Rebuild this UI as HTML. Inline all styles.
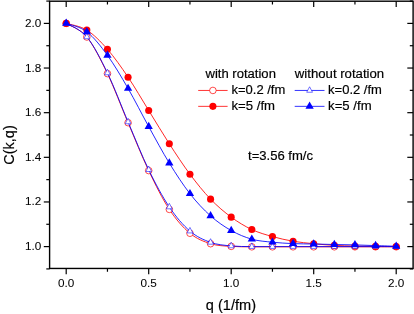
<!DOCTYPE html>
<html><head><meta charset="utf-8"><title>C(k,q)</title>
<style>
html,body{margin:0;padding:0;background:#fff;}
svg{display:block;font-family:"Liberation Sans",sans-serif;fill:#000;}
</style></head>
<body>
<svg width="414" height="314" viewBox="0 0 414 314">
<defs><filter id="gs" x="0" y="0" width="414" height="314" filterUnits="userSpaceOnUse" color-interpolation-filters="sRGB"><feColorMatrix type="saturate" values="0"/></filter></defs>
<rect x="0" y="0" width="414" height="314" fill="#fff"/>
<g>
<path d="M66.20 23.40 C69.64 25.67 79.95 28.65 86.83 37.02 C93.70 45.39 100.58 59.34 107.45 73.62 C114.33 87.90 121.20 106.54 128.07 122.70 C134.95 138.87 141.82 156.16 148.70 170.60 C155.57 185.05 162.45 198.93 169.32 209.37 C176.20 219.81 183.07 227.53 189.95 233.25 C196.82 238.97 203.70 241.51 210.57 243.70 C217.45 245.89 224.32 245.86 231.20 246.38 C238.07 246.90 244.95 246.75 251.82 246.82 C258.70 246.90 265.57 246.82 272.45 246.82 C279.32 246.82 286.20 246.82 293.07 246.82 C299.95 246.82 306.82 246.82 313.70 246.82 C320.57 246.82 327.45 246.82 334.32 246.82 C341.20 246.82 348.07 246.82 354.95 246.82 C361.82 246.82 368.70 246.82 375.57 246.82 C382.45 246.82 392.76 246.82 396.20 246.82" fill="none" stroke="#ff0000" stroke-width="0.85"/>
<circle cx="66.20" cy="23.40" r="3.3" fill="#fff" stroke="#ff0000" stroke-width="0.7"/>
<circle cx="86.83" cy="37.02" r="3.3" fill="#fff" stroke="#ff0000" stroke-width="0.7"/>
<circle cx="107.45" cy="73.62" r="3.3" fill="#fff" stroke="#ff0000" stroke-width="0.7"/>
<circle cx="128.07" cy="122.70" r="3.3" fill="#fff" stroke="#ff0000" stroke-width="0.7"/>
<circle cx="148.70" cy="170.60" r="3.3" fill="#fff" stroke="#ff0000" stroke-width="0.7"/>
<circle cx="169.32" cy="209.37" r="3.3" fill="#fff" stroke="#ff0000" stroke-width="0.7"/>
<circle cx="189.95" cy="233.25" r="3.3" fill="#fff" stroke="#ff0000" stroke-width="0.7"/>
<circle cx="210.57" cy="243.70" r="3.3" fill="#fff" stroke="#ff0000" stroke-width="0.7"/>
<circle cx="231.20" cy="246.38" r="3.3" fill="#fff" stroke="#ff0000" stroke-width="0.7"/>
<circle cx="251.82" cy="246.82" r="3.3" fill="#fff" stroke="#ff0000" stroke-width="0.7"/>
<circle cx="272.45" cy="246.82" r="3.3" fill="#fff" stroke="#ff0000" stroke-width="0.7"/>
<circle cx="293.07" cy="246.82" r="3.3" fill="#fff" stroke="#ff0000" stroke-width="0.7"/>
<circle cx="313.70" cy="246.82" r="3.3" fill="#fff" stroke="#ff0000" stroke-width="0.7"/>
<circle cx="334.32" cy="246.82" r="3.3" fill="#fff" stroke="#ff0000" stroke-width="0.7"/>
<circle cx="354.95" cy="246.82" r="3.3" fill="#fff" stroke="#ff0000" stroke-width="0.7"/>
<circle cx="375.57" cy="246.82" r="3.3" fill="#fff" stroke="#ff0000" stroke-width="0.7"/>
<circle cx="396.20" cy="246.82" r="3.3" fill="#fff" stroke="#ff0000" stroke-width="0.7"/>
<path d="M66.20 23.40 C69.64 24.52 79.95 25.78 86.83 30.10 C93.70 34.41 100.58 41.44 107.45 49.29 C114.33 57.14 121.20 67.00 128.07 77.19 C134.95 87.38 141.82 99.34 148.70 110.45 C155.57 121.55 162.45 133.19 169.32 143.82 C176.20 154.44 183.07 164.97 189.95 174.19 C196.82 183.42 203.70 191.99 210.57 199.15 C217.45 206.30 224.32 212.07 231.20 217.14 C238.07 222.20 244.95 226.31 251.82 229.55 C258.70 232.78 265.57 234.61 272.45 236.56 C279.32 238.51 286.20 240.05 293.07 241.24 C299.95 242.43 306.82 243.01 313.70 243.70 C320.57 244.39 327.45 245.00 334.32 245.39 C341.20 245.79 348.07 245.92 354.95 246.09 C361.82 246.25 368.70 246.31 375.57 246.38 C382.45 246.45 392.76 246.49 396.20 246.51" fill="none" stroke="#ff0000" stroke-width="0.85"/>
<circle cx="66.20" cy="23.40" r="3.55" fill="#ff0000"/>
<circle cx="86.83" cy="30.10" r="3.55" fill="#ff0000"/>
<circle cx="107.45" cy="49.29" r="3.55" fill="#ff0000"/>
<circle cx="128.07" cy="77.19" r="3.55" fill="#ff0000"/>
<circle cx="148.70" cy="110.45" r="3.55" fill="#ff0000"/>
<circle cx="169.32" cy="143.82" r="3.55" fill="#ff0000"/>
<circle cx="189.95" cy="174.19" r="3.55" fill="#ff0000"/>
<circle cx="210.57" cy="199.15" r="3.55" fill="#ff0000"/>
<circle cx="231.20" cy="217.14" r="3.55" fill="#ff0000"/>
<circle cx="251.82" cy="229.55" r="3.55" fill="#ff0000"/>
<circle cx="272.45" cy="236.56" r="3.55" fill="#ff0000"/>
<circle cx="293.07" cy="241.24" r="3.55" fill="#ff0000"/>
<circle cx="313.70" cy="243.70" r="3.55" fill="#ff0000"/>
<circle cx="334.32" cy="245.39" r="3.55" fill="#ff0000"/>
<circle cx="354.95" cy="246.09" r="3.55" fill="#ff0000"/>
<circle cx="375.57" cy="246.38" r="3.55" fill="#ff0000"/>
<circle cx="396.20" cy="246.51" r="3.55" fill="#ff0000"/>
<path d="M66.20 23.40 C69.64 25.65 79.95 28.65 86.83 36.90 C93.70 45.16 100.58 58.78 107.45 72.95 C114.33 87.12 121.20 105.82 128.07 121.94 C134.95 138.07 141.82 155.53 148.70 169.71 C155.57 183.88 162.45 196.75 169.32 206.98 C176.20 217.21 183.07 225.19 189.95 231.09 C196.82 236.98 203.70 239.89 210.57 242.36 C217.45 244.83 224.32 245.22 231.20 245.93 C238.07 246.64 244.95 246.49 251.82 246.60 C258.70 246.71 265.57 246.60 272.45 246.60 C279.32 246.60 286.20 246.60 293.07 246.60 C299.95 246.60 306.82 246.60 313.70 246.60 C320.57 246.60 327.45 246.60 334.32 246.60 C341.20 246.60 348.07 246.60 354.95 246.60 C361.82 246.60 368.70 246.60 375.57 246.60 C382.45 246.60 392.76 246.60 396.20 246.60" fill="none" stroke="#0000ff" stroke-width="0.85"/>
<path d="M66.20 19.73 L69.10 25.23 L63.30 25.23 Z" fill="#fff" stroke="#0000ff" stroke-width="0.55"/>
<path d="M86.83 33.24 L89.73 38.74 L83.92 38.74 Z" fill="#fff" stroke="#0000ff" stroke-width="0.55"/>
<path d="M107.45 69.28 L110.35 74.78 L104.55 74.78 Z" fill="#fff" stroke="#0000ff" stroke-width="0.55"/>
<path d="M128.07 118.28 L130.97 123.78 L125.17 123.78 Z" fill="#fff" stroke="#0000ff" stroke-width="0.55"/>
<path d="M148.70 166.04 L151.60 171.54 L145.80 171.54 Z" fill="#fff" stroke="#0000ff" stroke-width="0.55"/>
<path d="M169.32 203.32 L172.22 208.82 L166.42 208.82 Z" fill="#fff" stroke="#0000ff" stroke-width="0.55"/>
<path d="M189.95 227.42 L192.85 232.92 L187.05 232.92 Z" fill="#fff" stroke="#0000ff" stroke-width="0.55"/>
<path d="M210.57 238.69 L213.47 244.19 L207.67 244.19 Z" fill="#fff" stroke="#0000ff" stroke-width="0.55"/>
<path d="M231.20 242.26 L234.10 247.76 L228.30 247.76 Z" fill="#fff" stroke="#0000ff" stroke-width="0.55"/>
<path d="M251.82 242.93 L254.72 248.43 L248.92 248.43 Z" fill="#fff" stroke="#0000ff" stroke-width="0.55"/>
<path d="M272.45 242.93 L275.35 248.43 L269.55 248.43 Z" fill="#fff" stroke="#0000ff" stroke-width="0.55"/>
<path d="M293.07 242.93 L295.97 248.43 L290.18 248.43 Z" fill="#fff" stroke="#0000ff" stroke-width="0.55"/>
<path d="M313.70 242.93 L316.60 248.43 L310.80 248.43 Z" fill="#fff" stroke="#0000ff" stroke-width="0.55"/>
<path d="M334.32 242.93 L337.22 248.43 L331.43 248.43 Z" fill="#fff" stroke="#0000ff" stroke-width="0.55"/>
<path d="M354.95 242.93 L357.85 248.43 L352.05 248.43 Z" fill="#fff" stroke="#0000ff" stroke-width="0.55"/>
<path d="M375.57 242.93 L378.47 248.43 L372.68 248.43 Z" fill="#fff" stroke="#0000ff" stroke-width="0.55"/>
<path d="M396.20 242.93 L399.10 248.43 L393.30 248.43 Z" fill="#fff" stroke="#0000ff" stroke-width="0.55"/>
<path d="M66.20 23.40 C69.64 24.80 79.95 26.45 86.83 31.77 C93.70 37.09 100.58 45.87 107.45 55.32 C114.33 64.77 121.20 76.58 128.07 88.46 C134.95 100.34 141.82 114.14 148.70 126.59 C155.57 139.03 162.45 151.94 169.32 163.12 C176.20 174.31 183.07 184.91 189.95 193.70 C196.82 202.50 203.70 209.75 210.57 215.89 C217.45 222.03 224.32 226.65 231.20 230.53 C238.07 234.41 244.95 237.24 251.82 239.19 C258.70 241.14 265.57 241.47 272.45 242.20 C279.32 242.94 286.20 243.31 293.07 243.61 C299.95 243.91 306.82 243.86 313.70 244.01 C320.57 244.16 327.45 244.35 334.32 244.50 C341.20 244.65 348.07 244.72 354.95 244.90 C361.82 245.09 368.70 245.36 375.57 245.60 C382.45 245.83 392.76 246.17 396.20 246.29" fill="none" stroke="#0000ff" stroke-width="0.85"/>
<path d="M66.20 18.60 L70.35 25.80 L62.05 25.80 Z" fill="#0000ff"/>
<path d="M86.83 26.97 L90.98 34.17 L82.67 34.17 Z" fill="#0000ff"/>
<path d="M107.45 50.52 L111.60 57.72 L103.30 57.72 Z" fill="#0000ff"/>
<path d="M128.07 83.66 L132.22 90.86 L123.92 90.86 Z" fill="#0000ff"/>
<path d="M148.70 121.79 L152.85 128.99 L144.55 128.99 Z" fill="#0000ff"/>
<path d="M169.32 158.32 L173.47 165.52 L165.17 165.52 Z" fill="#0000ff"/>
<path d="M189.95 188.90 L194.10 196.10 L185.80 196.10 Z" fill="#0000ff"/>
<path d="M210.57 211.09 L214.72 218.29 L206.42 218.29 Z" fill="#0000ff"/>
<path d="M231.20 225.73 L235.35 232.93 L227.05 232.93 Z" fill="#0000ff"/>
<path d="M251.82 234.39 L255.97 241.59 L247.67 241.59 Z" fill="#0000ff"/>
<path d="M272.45 237.40 L276.60 244.60 L268.30 244.60 Z" fill="#0000ff"/>
<path d="M293.07 238.81 L297.22 246.01 L288.93 246.01 Z" fill="#0000ff"/>
<path d="M313.70 239.21 L317.85 246.41 L309.55 246.41 Z" fill="#0000ff"/>
<path d="M334.32 239.70 L338.47 246.90 L330.18 246.90 Z" fill="#0000ff"/>
<path d="M354.95 240.10 L359.10 247.30 L350.80 247.30 Z" fill="#0000ff"/>
<path d="M375.57 240.80 L379.72 248.00 L371.43 248.00 Z" fill="#0000ff"/>
<path d="M396.20 241.49 L400.35 248.69 L392.05 248.69 Z" fill="#0000ff"/>
</g>
<g>
<rect x="49.60" y="1.20" width="363.50" height="267.25" fill="none" stroke="#000" stroke-width="1.40"/>
<line x1="66.20" y1="268.45" x2="66.20" y2="274.25" stroke="#000" stroke-width="1.20"/>
<line x1="66.20" y1="1.20" x2="66.20" y2="7.00" stroke="#000" stroke-width="1.20"/>
<line x1="107.45" y1="268.45" x2="107.45" y2="271.75" stroke="#000" stroke-width="1.20"/>
<line x1="107.45" y1="1.20" x2="107.45" y2="4.50" stroke="#000" stroke-width="1.20"/>
<line x1="148.70" y1="268.45" x2="148.70" y2="274.25" stroke="#000" stroke-width="1.20"/>
<line x1="148.70" y1="1.20" x2="148.70" y2="7.00" stroke="#000" stroke-width="1.20"/>
<line x1="189.95" y1="268.45" x2="189.95" y2="271.75" stroke="#000" stroke-width="1.20"/>
<line x1="189.95" y1="1.20" x2="189.95" y2="4.50" stroke="#000" stroke-width="1.20"/>
<line x1="231.20" y1="268.45" x2="231.20" y2="274.25" stroke="#000" stroke-width="1.20"/>
<line x1="231.20" y1="1.20" x2="231.20" y2="7.00" stroke="#000" stroke-width="1.20"/>
<line x1="272.45" y1="268.45" x2="272.45" y2="271.75" stroke="#000" stroke-width="1.20"/>
<line x1="272.45" y1="1.20" x2="272.45" y2="4.50" stroke="#000" stroke-width="1.20"/>
<line x1="313.70" y1="268.45" x2="313.70" y2="274.25" stroke="#000" stroke-width="1.20"/>
<line x1="313.70" y1="1.20" x2="313.70" y2="7.00" stroke="#000" stroke-width="1.20"/>
<line x1="354.95" y1="268.45" x2="354.95" y2="271.75" stroke="#000" stroke-width="1.20"/>
<line x1="354.95" y1="1.20" x2="354.95" y2="4.50" stroke="#000" stroke-width="1.20"/>
<line x1="396.20" y1="268.45" x2="396.20" y2="274.25" stroke="#000" stroke-width="1.20"/>
<line x1="396.20" y1="1.20" x2="396.20" y2="7.00" stroke="#000" stroke-width="1.20"/>
<line x1="46.30" y1="268.92" x2="49.60" y2="268.92" stroke="#000" stroke-width="1.20"/>
<line x1="409.80" y1="268.92" x2="413.10" y2="268.92" stroke="#000" stroke-width="1.20"/>
<line x1="43.80" y1="246.60" x2="49.60" y2="246.60" stroke="#000" stroke-width="1.20"/>
<line x1="407.30" y1="246.60" x2="413.10" y2="246.60" stroke="#000" stroke-width="1.20"/>
<line x1="46.30" y1="224.28" x2="49.60" y2="224.28" stroke="#000" stroke-width="1.20"/>
<line x1="409.80" y1="224.28" x2="413.10" y2="224.28" stroke="#000" stroke-width="1.20"/>
<line x1="43.80" y1="201.96" x2="49.60" y2="201.96" stroke="#000" stroke-width="1.20"/>
<line x1="407.30" y1="201.96" x2="413.10" y2="201.96" stroke="#000" stroke-width="1.20"/>
<line x1="46.30" y1="179.64" x2="49.60" y2="179.64" stroke="#000" stroke-width="1.20"/>
<line x1="409.80" y1="179.64" x2="413.10" y2="179.64" stroke="#000" stroke-width="1.20"/>
<line x1="43.80" y1="157.32" x2="49.60" y2="157.32" stroke="#000" stroke-width="1.20"/>
<line x1="407.30" y1="157.32" x2="413.10" y2="157.32" stroke="#000" stroke-width="1.20"/>
<line x1="46.30" y1="135.00" x2="49.60" y2="135.00" stroke="#000" stroke-width="1.20"/>
<line x1="409.80" y1="135.00" x2="413.10" y2="135.00" stroke="#000" stroke-width="1.20"/>
<line x1="43.80" y1="112.68" x2="49.60" y2="112.68" stroke="#000" stroke-width="1.20"/>
<line x1="407.30" y1="112.68" x2="413.10" y2="112.68" stroke="#000" stroke-width="1.20"/>
<line x1="46.30" y1="90.36" x2="49.60" y2="90.36" stroke="#000" stroke-width="1.20"/>
<line x1="409.80" y1="90.36" x2="413.10" y2="90.36" stroke="#000" stroke-width="1.20"/>
<line x1="43.80" y1="68.04" x2="49.60" y2="68.04" stroke="#000" stroke-width="1.20"/>
<line x1="407.30" y1="68.04" x2="413.10" y2="68.04" stroke="#000" stroke-width="1.20"/>
<line x1="46.30" y1="45.72" x2="49.60" y2="45.72" stroke="#000" stroke-width="1.20"/>
<line x1="409.80" y1="45.72" x2="413.10" y2="45.72" stroke="#000" stroke-width="1.20"/>
<line x1="43.80" y1="23.40" x2="49.60" y2="23.40" stroke="#000" stroke-width="1.20"/>
<line x1="407.30" y1="23.40" x2="413.10" y2="23.40" stroke="#000" stroke-width="1.20"/>
<line x1="46.30" y1="1.08" x2="49.60" y2="1.08" stroke="#000" stroke-width="1.20"/>
<line x1="409.80" y1="1.08" x2="413.10" y2="1.08" stroke="#000" stroke-width="1.20"/>
</g>
<g>
<line x1="198.20" y1="90.45" x2="227.60" y2="90.45" stroke="#ff0000" stroke-width="0.8"/>
<circle cx="212.90" cy="90.45" r="3.3" fill="#fff" stroke="#ff0000" stroke-width="0.7"/>
<line x1="198.20" y1="106.35" x2="227.60" y2="106.35" stroke="#ff0000" stroke-width="0.8"/>
<circle cx="212.90" cy="106.35" r="3.55" fill="#ff0000"/>
<line x1="294.70" y1="90.45" x2="324.50" y2="90.45" stroke="#0000ff" stroke-width="0.8"/>
<path d="M309.60 86.78 L312.50 92.28 L306.70 92.28 Z" fill="#fff" stroke="#0000ff" stroke-width="0.55"/>
<line x1="294.70" y1="106.35" x2="324.50" y2="106.35" stroke="#0000ff" stroke-width="0.8"/>
<path d="M309.60 101.55 L313.75 108.75 L305.45 108.75 Z" fill="#0000ff"/>
</g>
<g fill="#000" stroke="#000" stroke-width="0.18" filter="url(#gs)">
<text x="66.20" y="286.80" font-size="11.70" text-anchor="middle" textLength="16.30" lengthAdjust="spacingAndGlyphs" stroke-width="0.06">0.0</text>
<text x="148.70" y="286.80" font-size="11.70" text-anchor="middle" textLength="16.30" lengthAdjust="spacingAndGlyphs" stroke-width="0.06">0.5</text>
<text x="231.20" y="286.80" font-size="11.70" text-anchor="middle" textLength="16.30" lengthAdjust="spacingAndGlyphs" stroke-width="0.06">1.0</text>
<text x="313.70" y="286.80" font-size="11.70" text-anchor="middle" textLength="16.30" lengthAdjust="spacingAndGlyphs" stroke-width="0.06">1.5</text>
<text x="396.20" y="286.80" font-size="11.70" text-anchor="middle" textLength="16.30" lengthAdjust="spacingAndGlyphs" stroke-width="0.06">2.0</text>
<text x="41.30" y="250.10" font-size="11.70" text-anchor="end" textLength="16.30" lengthAdjust="spacingAndGlyphs" stroke-width="0.06">1.0</text>
<text x="41.30" y="205.46" font-size="11.70" text-anchor="end" textLength="16.30" lengthAdjust="spacingAndGlyphs" stroke-width="0.06">1.2</text>
<text x="41.30" y="160.82" font-size="11.70" text-anchor="end" textLength="16.30" lengthAdjust="spacingAndGlyphs" stroke-width="0.06">1.4</text>
<text x="41.30" y="116.18" font-size="11.70" text-anchor="end" textLength="16.30" lengthAdjust="spacingAndGlyphs" stroke-width="0.06">1.6</text>
<text x="41.30" y="71.54" font-size="11.70" text-anchor="end" textLength="16.30" lengthAdjust="spacingAndGlyphs" stroke-width="0.06">1.8</text>
<text x="41.30" y="26.90" font-size="11.70" text-anchor="end" textLength="16.30" lengthAdjust="spacingAndGlyphs" stroke-width="0.06">2.0</text>
<text x="230.90" y="309.60" font-size="13.75" text-anchor="middle" textLength="50.20" lengthAdjust="spacingAndGlyphs">q (1/fm)</text>
<text transform="translate(14.2,145) rotate(-90)" font-size="13.75" text-anchor="middle" textLength="39.6" lengthAdjust="spacingAndGlyphs">C(k,q)</text>
<text x="248.00" y="159.60" font-size="12.00" text-anchor="start" textLength="65.00" lengthAdjust="spacingAndGlyphs">t=3.56 fm/c</text>
<text x="205.50" y="78.40" font-size="12.00" text-anchor="start" textLength="70.40" lengthAdjust="spacingAndGlyphs">with rotation</text>
<text x="294.80" y="78.40" font-size="12.00" text-anchor="start" textLength="89.40" lengthAdjust="spacingAndGlyphs">without rotation</text>
<text x="231.50" y="93.90" font-size="12.00" text-anchor="start" textLength="53.80" lengthAdjust="spacingAndGlyphs">k=0.2 /fm</text>
<text x="231.50" y="109.70" font-size="12.00" text-anchor="start" textLength="43.50" lengthAdjust="spacingAndGlyphs">k=5 /fm</text>
<text x="328.10" y="93.90" font-size="12.00" text-anchor="start" textLength="53.80" lengthAdjust="spacingAndGlyphs">k=0.2 /fm</text>
<text x="328.10" y="109.70" font-size="12.00" text-anchor="start" textLength="43.50" lengthAdjust="spacingAndGlyphs">k=5 /fm</text>
</g>
</svg>
</body></html>
